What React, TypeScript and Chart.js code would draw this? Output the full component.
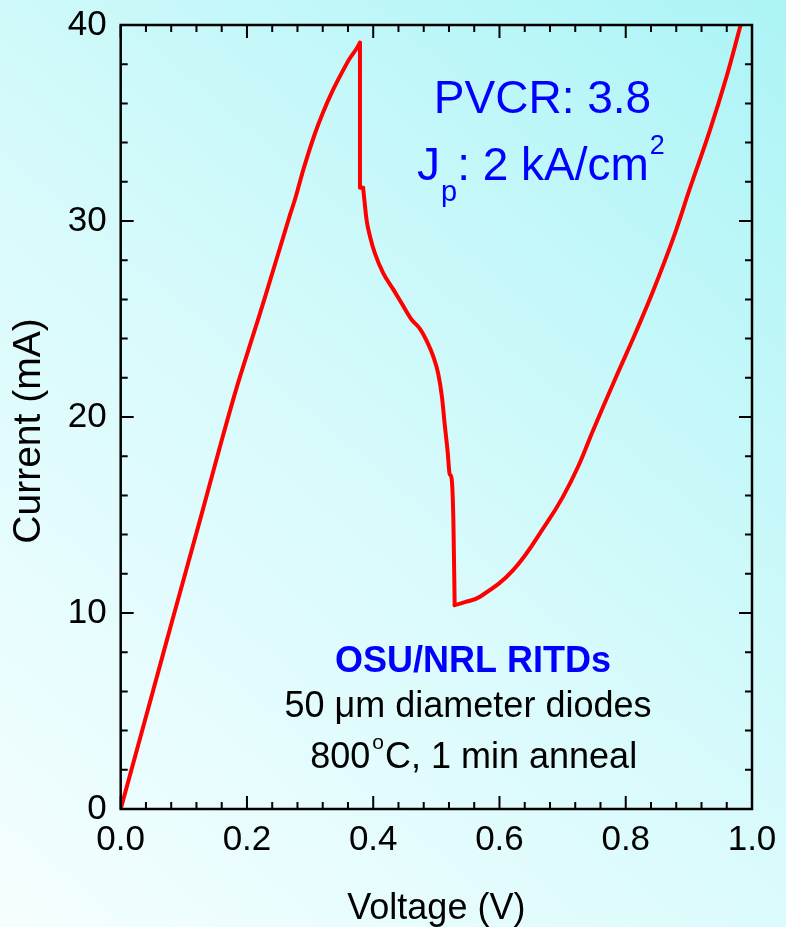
import React, { useEffect, useRef } from "react";
import { Chart, registerables } from "chart.js";

Chart.register(...registerables);

// ---- Data ----
// Rising (tunnelling) branch up to the peak
const riseV = [0, 0.0516, 0.0833, 0.1256, 0.1572, 0.1837, 0.21, 0.2285, 0.268, 0.277, 0.29, 0.307, 0.32, 0.335, 0.3525, 0.363, 0.3737, 0.379];
const riseI = [0, 6.07, 9.81, 14.74, 18.48, 21.5, 24.2, 26.1, 30.3, 31.2, 32.7, 34.4, 35.5, 36.6, 37.7, 38.3, 38.8, 39.1];
// Abrupt drop after the peak
const dropV = [0.379, 0.379, 0.384];
const dropI = [39.1, 31.7, 31.7];
// Negative differential resistance region
const ndrV = [0.384, 0.3895, 0.395, 0.4027, 0.416, 0.432, 0.445, 0.46, 0.474, 0.486, 0.495, 0.503, 0.509, 0.513, 0.518, 0.521, 0.524, 0.527, 0.529];
const ndrI = [31.7, 30.05, 29.2, 28.35, 27.33, 26.5, 25.8, 25.0, 24.5, 23.8, 23.1, 22.2, 21.0, 19.7, 18.2, 17.1, 16.9, 14.7, 10.4];
// Valley and thermionic branch
const valleyV = [0.529, 0.545, 0.569, 0.622, 0.675, 0.7, 0.725, 0.748, 0.78, 0.817, 0.843, 0.875, 0.902, 0.933, 0.96, 0.982];
const valleyI = [10.4, 10.55, 10.83, 12.2, 14.6, 15.9, 17.5, 19.3, 21.7, 24.4, 26.4, 29.1, 31.7, 34.6, 37.4, 40.0];

const xTickValues = [0, 0.2, 0.4, 0.6, 0.8, 1.0];
const yTickValues = [0, 10, 20, 30, 40];
const xMinorStep = 0.04;
const yMinorStep = 2;
const xTitle = "Voltage (V)";
const yTitle = "Current (mA)";
const annPVCR = "PVCR: 3.8";
const annGroup = "OSU/NRL RITDs";
const annDiodes = "50 \u03bcm diameter diodes";

const FONT = "'Liberation Sans', Arial, Helvetica, sans-serif";
const RED = "#ff0000";

function toPoints(v: number[], i: number[]) {
  return v.map((x, k) => ({ x, y: i[k] }));
}

export default function App() {
  const ref = useRef<HTMLCanvasElement | null>(null);

  useEffect(() => {
    document.body.style.margin = "0";
    const canvas = ref.current;
    if (!canvas) return;

    const bgPlugin = {
      id: "bg",
      beforeDraw(chart: any) {
        const { ctx, width, height } = chart;
        ctx.save();
        const g = ctx.createLinearGradient(0, height, width, 0);
        g.addColorStop(0, "#f5feff");
        g.addColorStop(0.5, "#d6fafb");
        g.addColorStop(1, "#acf4f6");
        ctx.fillStyle = g;
        ctx.fillRect(0, 0, width, height);
        ctx.restore();
      },
    };

    const framePlugin = {
      id: "frame",
      afterDatasetsDraw(chart: any) {
        const { ctx, chartArea: a, scales } = chart;
        const xs = scales.x;
        const ys = scales.y;
        ctx.save();
        ctx.strokeStyle = "#000";
        ctx.lineWidth = 2.5;
        ctx.strokeRect(a.left, a.top, a.right - a.left, a.bottom - a.top);
        ctx.lineWidth = 2;
        ctx.beginPath();
        const nx = Math.round(1 / xMinorStep);
        for (let i = 0; i <= nx; i++) {
          const v = i * xMinorStep;
          const major = xTickValues.some((t) => Math.abs(t - v) < 1e-6);
          const len = major ? 13 : 7;
          const px = xs.getPixelForValue(v);
          ctx.moveTo(px, a.bottom);
          ctx.lineTo(px, a.bottom - len);
          ctx.moveTo(px, a.top);
          ctx.lineTo(px, a.top + len);
        }
        const ny = Math.round(40 / yMinorStep);
        for (let i = 0; i <= ny; i++) {
          const v = i * yMinorStep;
          const major = yTickValues.includes(v);
          const len = major ? 13 : 7;
          const py = ys.getPixelForValue(v);
          ctx.moveTo(a.left, py);
          ctx.lineTo(a.left + len, py);
          ctx.moveTo(a.right, py);
          ctx.lineTo(a.right - len, py);
        }
        ctx.stroke();
        ctx.restore();
      },
    };

    const textPlugin = {
      id: "texts",
      afterDraw(chart: any) {
        const { ctx } = chart;
        ctx.save();
        ctx.textBaseline = "alphabetic";

        // Y axis title
        ctx.save();
        ctx.fillStyle = "#000";
        ctx.font = `39px ${FONT}`;
        ctx.translate(40, 431);
        ctx.rotate(-Math.PI / 2);
        ctx.textAlign = "center";
        ctx.fillText(yTitle, 0, 0);
        ctx.restore();

        const blue = "#0000ff";
        // PVCR
        ctx.fillStyle = blue;
        ctx.font = `46px ${FONT}`;
        ctx.textAlign = "center";
        ctx.fillText(annPVCR, 542.5, 113);
        // Jp: 2 kA/cm2
        ctx.textAlign = "left";
        let x = 417;
        ctx.font = `46px ${FONT}`;
        ctx.fillText("J", x, 180);
        x += ctx.measureText("J").width + 1;
        ctx.font = `29px ${FONT}`;
        ctx.fillText("p", x, 201);
        x += ctx.measureText("p").width;
        ctx.font = `46px ${FONT}`;
        ctx.fillText(": 2 kA/cm", x, 180);
        x += ctx.measureText(": 2 kA/cm").width + 1;
        ctx.font = `27px ${FONT}`;
        ctx.fillText("2", x, 154);

        // OSU/NRL RITDs
        ctx.textAlign = "center";
        ctx.font = `bold 36px ${FONT}`;
        ctx.fillText(annGroup, 473, 672);
        // 50 um diameter diodes
        ctx.fillStyle = "#000";
        ctx.font = `36px ${FONT}`;
        ctx.fillText(annDiodes, 468, 717);
        // 800oC, 1 min anneal
        ctx.textAlign = "left";
        ctx.font = `36px ${FONT}`;
        const a1 = "800";
        const a2 = "C, 1 min anneal";
        const w1 = ctx.measureText(a1).width;
        const w2 = ctx.measureText(a2).width;
        ctx.font = `21px ${FONT}`;
        const wo = ctx.measureText("o").width;
        const total = w1 + wo + 3 + w2;
        let sx = 473.7 - total / 2;
        ctx.font = `36px ${FONT}`;
        ctx.fillText(a1, sx, 768);
        sx += w1 + 2;
        ctx.font = `21px ${FONT}`;
        ctx.fillText("o", sx, 749);
        sx += wo + 1;
        ctx.font = `36px ${FONT}`;
        ctx.fillText(a2, sx, 768);
        ctx.restore();
      },
    };

    const lineStyle = {
      showLine: true,
      borderColor: RED,
      backgroundColor: RED,
      borderWidth: 4,
      pointRadius: 0,
      borderJoinStyle: "round",
      borderCapStyle: "round",
    };

    const chart = new Chart(canvas, {
      type: "scatter",
      data: {
        datasets: [
          { ...lineStyle, data: toPoints(riseV, riseI), tension: 0.35 },
          { ...lineStyle, data: toPoints(dropV, dropI), tension: 0 },
          { ...lineStyle, data: toPoints(ndrV, ndrI), cubicInterpolationMode: "monotone" },
          { ...lineStyle, data: toPoints(valleyV, valleyI), tension: 0.4 },
        ],
      },
      options: {
        animation: false,
        responsive: false,
        maintainAspectRatio: false,
        events: [],
        layout: { padding: { left: 0, right: 34, top: 25, bottom: 0 } },
        plugins: { legend: { display: false }, tooltip: { enabled: false } },
        scales: {
          x: {
            type: "linear",
            min: 0,
            max: 1,
            afterBuildTicks: (s: any) => {
              s.ticks = xTickValues.map((v) => ({ value: v }));
            },
            ticks: {
              callback: (v: any) => Number(v).toFixed(1),
              font: { family: FONT, size: 35 },
              color: "#000",
              padding: 10,
              maxRotation: 0,
              autoSkip: false,
            },
            grid: { display: false, drawTicks: false },
            border: { display: false },
            title: {
              display: true,
              text: xTitle,
              color: "#000",
              font: { family: FONT, size: 36, lineHeight: 1 },
              padding: { top: 0, bottom: 0 },
            },
            afterFit: (s: any) => {
              s.height = 118;
              s.paddingLeft = 0;
              s.paddingRight = 0;
            },
          },
          y: {
            type: "linear",
            min: 0,
            max: 40,
            afterBuildTicks: (s: any) => {
              s.ticks = yTickValues.map((v) => ({ value: v }));
            },
            ticks: {
              callback: (v: any) => String(v),
              font: { family: FONT, size: 35 },
              color: "#000",
              padding: 14,
              autoSkip: false,
            },
            grid: { display: false, drawTicks: false },
            border: { display: false },
            title: { display: false },
            afterFit: (s: any) => {
              s.width = 120.7;
              s.paddingTop = 0;
              s.paddingBottom = 0;
            },
          },
        },
      },
      plugins: [bgPlugin, framePlugin, textPlugin],
    } as any);

    return () => chart.destroy();
  }, []);

  return (
    <div style={{ width: 786, height: 927, position: "relative" }}>
      <canvas ref={ref} width={786} height={927} style={{ display: "block" }} />
    </div>
  );
}
